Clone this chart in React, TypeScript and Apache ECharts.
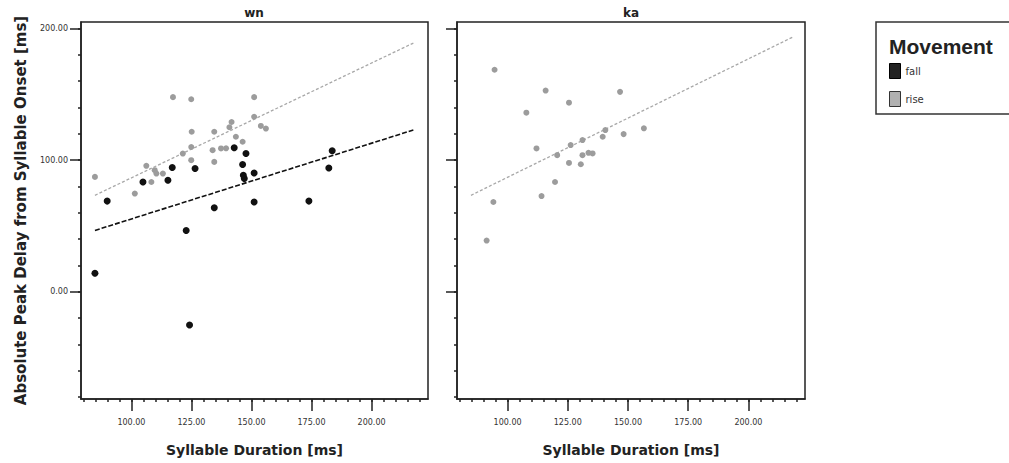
import React, { useEffect, useRef } from "react";
import * as echarts from "echarts";

// ---- data ----
const panelTitles = ["wn", "ka"];
const xMajorTicks = [100, 125, 150, 175, 200];
const yMajorTicks = [0, 100, 200];

// wn panel, fall
const wnFallX = [84.8, 89.9, 104.8, 115.2, 117.0, 126.5, 122.8, 124.2, 134.5, 142.8, 147.7, 146.3, 146.6, 147.0, 151.1, 151.1, 173.9, 182.2, 183.6];
const wnFallY = [14.0, 68.9, 83.4, 84.7, 94.4, 93.7, 46.6, -25.2, 63.9, 109.4, 105.0, 96.7, 88.5, 86.0, 90.3, 68.2, 68.9, 94.1, 107.1];
// wn panel, rise
const wnRiseX = [84.8, 117.3, 124.9, 151.1, 151.1, 153.9, 156.0, 141.7, 140.8, 125.1, 134.5, 143.5, 146.3, 133.8, 124.9, 121.4, 137.3, 139.4, 134.5, 124.9, 106.2, 109.7, 110.4, 113.1, 108.3, 101.4];
const wnRiseY = [87.3, 147.9, 146.3, 147.9, 133.0, 126.0, 124.0, 129.0, 125.0, 121.6, 121.6, 117.8, 114.0, 107.6, 110.0, 105.0, 108.9, 109.0, 98.7, 100.0, 95.7, 92.4, 89.8, 89.8, 83.4, 74.6];
// ka panel, rise
const kaRiseX = [94.6, 115.8, 125.5, 146.7, 107.8, 156.6, 148.2, 139.5, 140.6, 131.1, 126.2, 112.0, 120.6, 131.1, 133.6, 135.3, 125.5, 130.4, 119.7, 114.1, 94.1, 91.3];
const kaRiseY = [168.7, 152.9, 143.7, 151.9, 136.1, 124.2, 119.8, 117.8, 122.9, 115.3, 111.5, 108.9, 103.8, 103.8, 105.6, 105.1, 97.9, 96.9, 83.4, 72.7, 68.2, 38.9];

// fit lines (end points)
const wnFallFitX = [84.8, 217.4];
const wnFallFitY = [46.6, 122.9];
const wnRiseFitX = [84.8, 217.4];
const wnRiseFitY = [73.3, 189.0];
const kaRiseFitX = [84.8, 218.8];
const kaRiseFitY = [73.3, 193.9];

const pairs = (xs: number[], ys: number[]) => xs.map((x, i) => [x, ys[i]]);
const range = (a: number, b: number, s: number) => {
  const r: number[] = [];
  for (let v = a; v <= b + 1e-9; v += s) r.push(v);
  return r;
};

const X_MIN = 79;
const X_MAX = 223.5;
const Y_MIN = -81.5;
const Y_MAX = 205;

const FALL = "#111111";
const RISE = "#9c9c9c";
const AX = "#222222";
const FONT = "DejaVu Sans";

export default function App() {
  const ref = useRef<HTMLDivElement>(null);
  useEffect(() => {
    if (!ref.current) return;
    const chart = echarts.init(ref.current, null, { renderer: "svg" });

    const grids = [
      { left: 81, top: 22, width: 347, height: 377 },
      { left: 457, top: 22, width: 348, height: 377 },
    ];

    const xAxes: any[] = [];
    const yAxes: any[] = [];
    grids.forEach((_, g) => {
      xAxes.push({
        type: "value", gridIndex: g, min: X_MIN, max: X_MAX, position: "bottom",
        axisLine: { show: true, onZero: false, lineStyle: { color: AX, width: 1.5 } },
        axisTick: { show: true, length: 3, customValues: range(80, 220, 5), lineStyle: { color: AX, width: 1.5 } },
        axisLabel: { show: false },
        splitLine: { show: false },
        name: "Syllable Duration [ms]",
        nameLocation: "middle",
        nameGap: 44,
        nameTextStyle: { fontFamily: FONT, fontWeight: "bold", fontSize: 14, color: "#222", verticalAlign: "top" },
      });
      xAxes.push({
        type: "value", gridIndex: g, min: X_MIN, max: X_MAX, position: "bottom",
        axisLine: { show: false, onZero: false },
        axisTick: { show: true, length: 12, customValues: xMajorTicks, lineStyle: { color: AX, width: 1.5 } },
        axisLabel: {
          show: true, customValues: xMajorTicks, margin: 19,
          fontFamily: FONT, fontSize: 8, color: "#333",
          formatter: (v: number) => v.toFixed(2),
        },
        splitLine: { show: false },
      });
      yAxes.push({
        type: "value", gridIndex: g, min: Y_MIN, max: Y_MAX, position: "left",
        axisLine: { show: true, onZero: false, lineStyle: { color: AX, width: 1.5 } },
        axisTick: { show: true, length: 3, customValues: range(-80, 200, 20), lineStyle: { color: AX, width: 1.5 } },
        axisLabel: { show: false },
        splitLine: { show: false },
        ...(g === 0
          ? {
              name: "Absolute Peak Delay from Syllable Onset [ms]",
              nameLocation: "middle",
              nameGap: 53,
              nameTextStyle: { fontFamily: FONT, fontWeight: "bold", fontSize: 15, color: "#222" },
            }
          : {}),
      });
      yAxes.push({
        type: "value", gridIndex: g, min: Y_MIN, max: Y_MAX, position: "left",
        axisLine: { show: false, onZero: false },
        axisTick: { show: true, length: 11, customValues: yMajorTicks, lineStyle: { color: AX, width: 1.5 } },
        axisLabel: {
          show: g === 0, customValues: yMajorTicks, margin: 13,
          fontFamily: FONT, fontSize: 8, color: "#333",
          formatter: (v: number) => v.toFixed(2),
        },
        splitLine: { show: false },
      });
    });

    const scatter = (name: string, data: number[][], g: number, color: string, size: number) => ({
      type: "scatter", name, data, xAxisIndex: g * 2, yAxisIndex: g * 2,
      symbol: "circle", symbolSize: size,
      itemStyle: { color, opacity: 1 },
      z: 3,
    });
    const fit = (id: string, xs: number[], ys: number[], g: number, color: string, dash: number[], w: number) => ({
      type: "line", id, data: pairs(xs, ys), xAxisIndex: g * 2, yAxisIndex: g * 2,
      showSymbol: false, symbol: "none", silent: true,
      lineStyle: { color, width: w, type: dash },
      z: 2,
    });

    chart.setOption({
      animation: false,
      backgroundColor: "#ffffff",
      grid: grids.map((gr) => ({ ...gr, show: true, borderColor: AX, borderWidth: 1.5, backgroundColor: "transparent" })),
      xAxis: xAxes,
      yAxis: yAxes,
      legend: {
        orient: "vertical",
        left: 876,
        top: 22,
        padding: [41, 120, 7, 13],
        itemWidth: 11,
        itemHeight: 15,
        itemGap: 12,
        borderColor: "#333",
        borderWidth: 1.5,
        icon: "rect",
        textStyle: { fontFamily: FONT, fontSize: 10, color: "#333" },
        data: [
          { name: "fall", itemStyle: { color: "#222", borderColor: "#000", borderWidth: 1 } },
          { name: "rise", itemStyle: { color: "#b0b0b0", borderColor: "#333", borderWidth: 1 } },
        ],
      },
      graphic: [
        { type: "text", left: 889, top: 36, style: { text: "Movement", fontFamily: "Liberation Sans", fontWeight: "bold", fontSize: 21, fill: "#222" } },
        { type: "text", x: 254, y: 13, style: { text: panelTitles[0], align: "center", verticalAlign: "middle", fontFamily: FONT, fontWeight: "bold", fontSize: 12, fill: "#222" } },
        { type: "text", x: 631, y: 13, style: { text: panelTitles[1], align: "center", verticalAlign: "middle", fontFamily: FONT, fontWeight: "bold", fontSize: 12, fill: "#222" } },
      ],
      series: [
        fit("wnFallFit", wnFallFitX, wnFallFitY, 0, "#111", [5, 2], 1.6),
        fit("wnRiseFit", wnRiseFitX, wnRiseFitY, 0, "#a8a8a8", [3, 2], 1.3),
        fit("kaRiseFit", kaRiseFitX, kaRiseFitY, 1, "#a8a8a8", [3, 2], 1.3),
        scatter("fall", pairs(wnFallX, wnFallY), 0, FALL, 7),
        scatter("rise", pairs(wnRiseX, wnRiseY), 0, RISE, 6),
        scatter("rise", pairs(kaRiseX, kaRiseY), 1, RISE, 6),
      ],
    });
    return () => chart.dispose();
  }, []);
  return <div ref={ref} style={{ position: "absolute", left: 0, top: 0, width: 1009, height: 463 }} />;
}
